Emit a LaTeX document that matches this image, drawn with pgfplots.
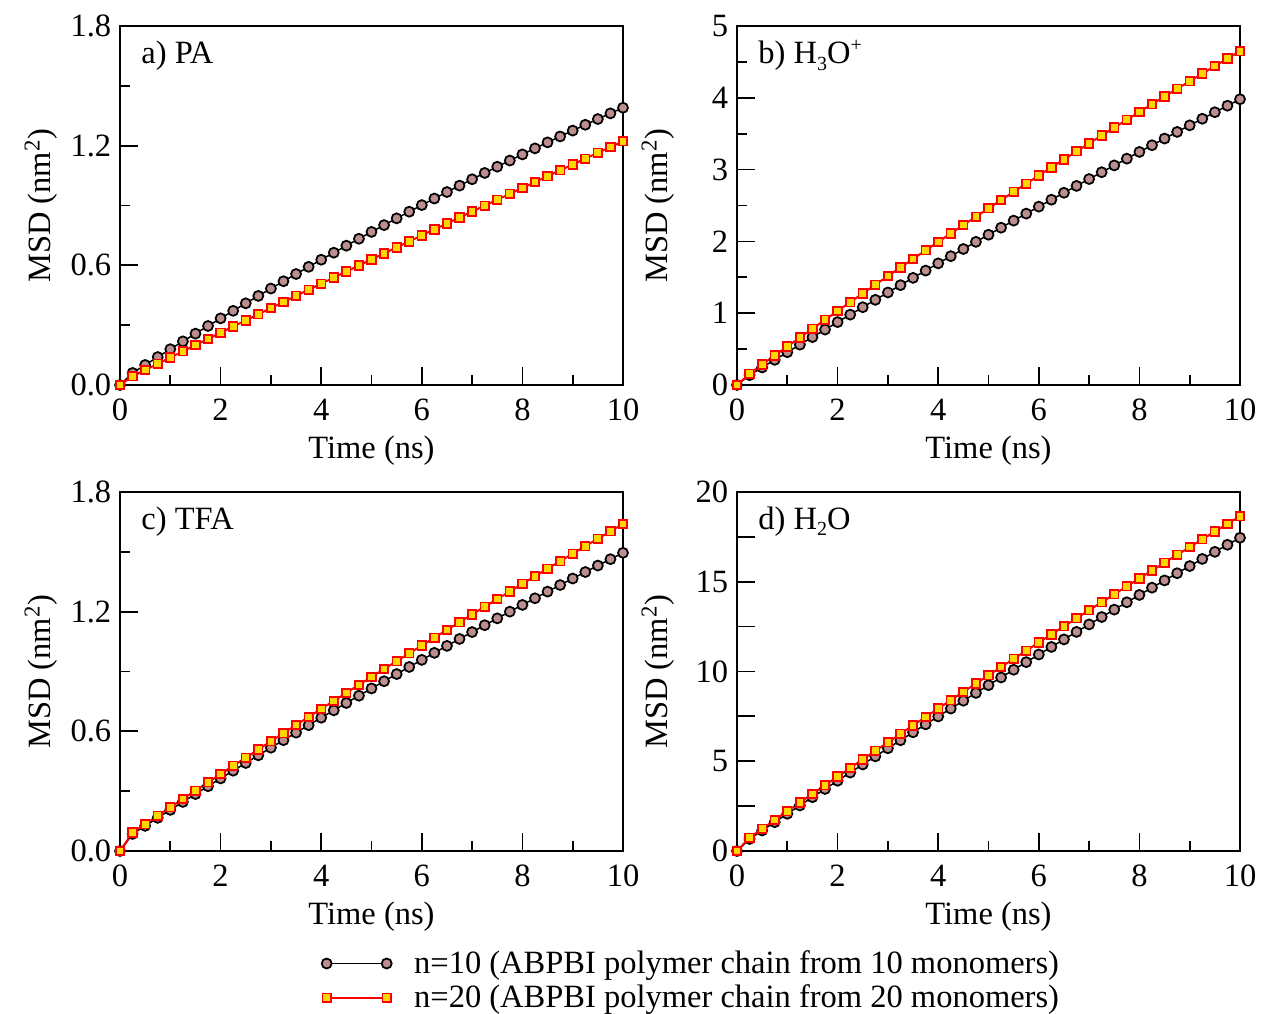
\documentclass[border=0pt]{standalone}
\usepackage{fontspec}
\setmainfont{Liberation Serif}
\usepackage{pgfplots}
\pgfplotsset{compat=1.18}
\usepackage{pgfplotstable}

\definecolor{rosy}{HTML}{BC8F8F}
\definecolor{sqfill}{HTML}{FFD700}

% t, n=10, n=20
\pgfplotstableread{
t n10 n20
0 0 0
0.25 0.0603 0.0435
0.5 0.1004 0.0749
0.75 0.1401 0.1062
1 0.1795 0.1375
1.25 0.2186 0.1687
1.5 0.2574 0.1999
1.75 0.2958 0.2310
2 0.3340 0.2620
2.25 0.3718 0.2930
2.5 0.4094 0.3239
2.75 0.4466 0.3547
3 0.4835 0.3855
3.25 0.5201 0.4162
3.5 0.5564 0.4469
3.75 0.5923 0.4775
4 0.6280 0.5080
4.25 0.6633 0.5385
4.5 0.6984 0.5689
4.75 0.7331 0.5992
5 0.7675 0.6295
5.25 0.8016 0.6597
5.5 0.8354 0.6899
5.75 0.8688 0.7200
6 0.9020 0.7500
6.25 0.9348 0.7800
6.5 0.9674 0.8099
6.75 0.9996 0.8397
7 1.0315 0.8695
7.25 1.0631 0.8992
7.5 1.0944 0.9289
7.75 1.1253 0.9585
8 1.1560 0.9880
8.25 1.1863 1.0175
8.5 1.2164 1.0469
8.75 1.2461 1.0762
9 1.2755 1.1055
9.25 1.3046 1.1347
9.5 1.3334 1.1639
9.75 1.3618 1.1930
10 1.3900 1.2220
}\dataPA

\pgfplotstableread{
t n10 n20
0 0 0
0.25 0.1373 0.1572
0.5 0.2441 0.2838
0.75 0.3505 0.4098
1 0.4565 0.5352
1.25 0.5620 0.6600
1.5 0.6671 0.7842
1.75 0.7718 0.9078
2 0.8760 1.0308
2.25 0.9798 1.1532
2.5 1.0831 1.2750
2.75 1.1860 1.3962
3 1.2885 1.5168
3.25 1.3905 1.6368
3.5 1.4921 1.7562
3.75 1.5933 1.8750
4 1.6940 1.9932
4.25 1.7943 2.1108
4.5 1.8941 2.2278
4.75 1.9935 2.3442
5 2.0925 2.4600
5.25 2.1910 2.5752
5.5 2.2891 2.6898
5.75 2.3868 2.8038
6 2.4840 2.9172
6.25 2.5808 3.0300
6.5 2.6771 3.1422
6.75 2.7730 3.2538
7 2.8685 3.3648
7.25 2.9635 3.4752
7.5 3.0581 3.5850
7.75 3.1523 3.6942
8 3.2460 3.8028
8.25 3.3393 3.9108
8.5 3.4321 4.0182
8.75 3.5245 4.1250
9 3.6165 4.2312
9.25 3.7080 4.3368
9.5 3.7991 4.4418
9.75 3.8898 4.5462
10 3.9800 4.6500
}\dataHthree

\pgfplotstableread{
t n10 n20
0 0 0
0.25 0.0856 0.0924
0.5 0.1261 0.1347
0.75 0.1663 0.1769
1 0.2062 0.2189
1.25 0.2459 0.2608
1.5 0.2855 0.3025
1.75 0.3248 0.3441
2 0.3638 0.3856
2.25 0.4026 0.4269
2.5 0.4413 0.4681
2.75 0.4797 0.5092
3 0.5178 0.5501
3.25 0.5557 0.5909
3.5 0.5934 0.6315
3.75 0.6309 0.6720
4 0.6682 0.7124
4.25 0.7052 0.7526
4.5 0.7421 0.7927
4.75 0.7786 0.8327
5 0.8150 0.8725
5.25 0.8511 0.9122
5.5 0.8871 0.9517
5.75 0.9227 0.9911
6 0.9582 1.0304
6.25 0.9934 1.0695
6.5 1.0285 1.1085
6.75 1.0632 1.1474
7 1.0978 1.1861
7.25 1.1321 1.2247
7.5 1.1663 1.2631
7.75 1.2001 1.3014
8 1.2338 1.3396
8.25 1.2672 1.3776
8.5 1.3005 1.4155
8.75 1.3334 1.4533
9 1.3662 1.4909
9.25 1.3987 1.5284
9.5 1.4311 1.5657
9.75 1.4631 1.6029
10 1.4950 1.6400
}\dataTFA

\pgfplotstableread{
t n10 n20
0 0 0
0.25 0.672 0.743
0.5 1.141 1.234
0.75 1.608 1.724
1 2.074 2.212
1.25 2.537 2.698
1.5 2.998 3.182
1.75 3.457 3.665
2 3.914 4.146
2.25 4.369 4.625
2.5 4.822 5.103
2.75 5.273 5.579
3 5.722 6.054
3.25 6.168 6.526
3.5 6.613 6.997
3.75 7.056 7.467
4 7.496 7.934
4.25 7.935 8.400
4.5 8.371 8.864
4.75 8.805 9.327
5 9.238 9.788
5.25 9.668 10.247
5.5 10.096 10.704
5.75 10.522 11.160
6 10.946 11.614
6.25 11.368 12.067
6.5 11.788 12.517
6.75 12.206 12.966
7 12.622 13.414
7.25 13.035 13.859
7.5 13.447 14.303
7.75 13.857 14.746
8 14.264 15.186
8.25 14.670 15.625
8.5 15.073 16.062
8.75 15.474 16.498
9 15.874 16.932
9.25 16.271 17.364
9.5 16.666 17.794
9.75 17.059 18.223
10 17.450 18.650
}\dataHtwo

\tikzset{panellabel/.style={anchor=west, font=\fontsize{13}{15}\selectfont}}

\pgfplotsset{
  msd/.style={
    scale only axis, width=201.2pt, height=143.6pt,
    xmin=0, xmax=10, ymin=0,
    xtick={0,2,...,10}, minor x tick num=1,
    minor y tick num=1,
    xtick pos=bottom, ytick pos=left,
    tick align=inside,
    major tick length=7pt, minor tick length=4pt,
    every tick/.style={black, line width=0.7pt},
    axis line style={line width=0.8pt},
    font=\fontsize{13}{15}\selectfont,
    /pgf/number format/assume math mode=true,
    xticklabel style={yshift=-2.2pt},
    xlabel={Time (ns)},
    ylabel={MSD (nm\textsuperscript{2})},
    xlabel style={at={(axis description cs:0.5,-0.183)}, anchor=center},
    ylabel style={at={(axis description cs:-0.157,0.5)}, anchor=center},
    clip=false,
  },
  ten/.style={black, line width=0.6pt, mark=*, mark size=2.0pt,
    mark options={fill=rosy, draw=black, line width=0.7pt}},
  twenty/.style={red, line width=0.8pt, mark=square*, mark size=1.7pt,
    mark options={fill=sqfill, draw=red, line width=0.7pt}},
}

\begin{document}
\begin{tikzpicture}
\useasboundingbox (-48pt,-65.2pt) rectangle (456.8pt,340.4pt);

% a) PA
\begin{axis}[msd, at={(0pt,186.4pt)}, ymax=1.8,
    ytick={0,0.6,1.2,1.8},
    yticklabel style={/pgf/number format/.cd, fixed, fixed zerofill, precision=1}]
\addplot[ten] table[x=t, y=n10] {\dataPA};
\addplot[twenty] table[x=t, y=n20] {\dataPA};
\node[panellabel] at (rel axis cs:0.025,0.918) {a) PA};
\end{axis}

% b) H3O+
\begin{axis}[msd, at={(246.8pt,186.4pt)}, ymax=5,
    ytick={0,1,...,5}]
\addplot[ten] table[x=t, y=n10] {\dataHthree};
\addplot[twenty] table[x=t, y=n20] {\dataHthree};
\node[panellabel] at (rel axis cs:0.025,0.918) {b) H\raisebox{-0.45ex}{\footnotesize 3}O\raisebox{0.8ex}{\footnotesize +}};
\end{axis}

% c) TFA
\begin{axis}[msd, at={(0pt,0pt)}, ymax=1.8,
    ytick={0,0.6,1.2,1.8},
    yticklabel style={/pgf/number format/.cd, fixed, fixed zerofill, precision=1},
    legend style={at={(rel axis cs:0.40,-0.261)}, anchor=north west, draw=none,
      fill=none, font=\fontsize{13}{15}\selectfont, row sep=-1pt,
      inner sep=0pt, nodes={inner sep=2pt}},
    legend cell align=left,
    legend image code/.code={\draw[#1] plot coordinates {(0pt,0pt) (24pt,0pt)};}]
\addplot[ten] table[x=t, y=n10] {\dataTFA};
\addlegendentry{\hspace{7pt}n=10 (ABPBI polymer chain from 10 monomers)}
\addplot[twenty] table[x=t, y=n20] {\dataTFA};
\addlegendentry{\hspace{7pt}n=20 (ABPBI polymer chain from 20 monomers)}
\node[panellabel] at (rel axis cs:0.025,0.918) {c) TFA};
\end{axis}

% d) H2O
\begin{axis}[msd, at={(246.8pt,0pt)}, ymax=20,
    ytick={0,2.5,...,20}, yticklabels={0,,5,,10,,15,,20}, minor y tick num=0]
\addplot[ten] table[x=t, y=n10] {\dataHtwo};
\addplot[twenty] table[x=t, y=n20] {\dataHtwo};
\node[panellabel] at (rel axis cs:0.025,0.918) {d) H\raisebox{-0.45ex}{\footnotesize 2}O};
\end{axis}
\end{tikzpicture}
\end{document}
